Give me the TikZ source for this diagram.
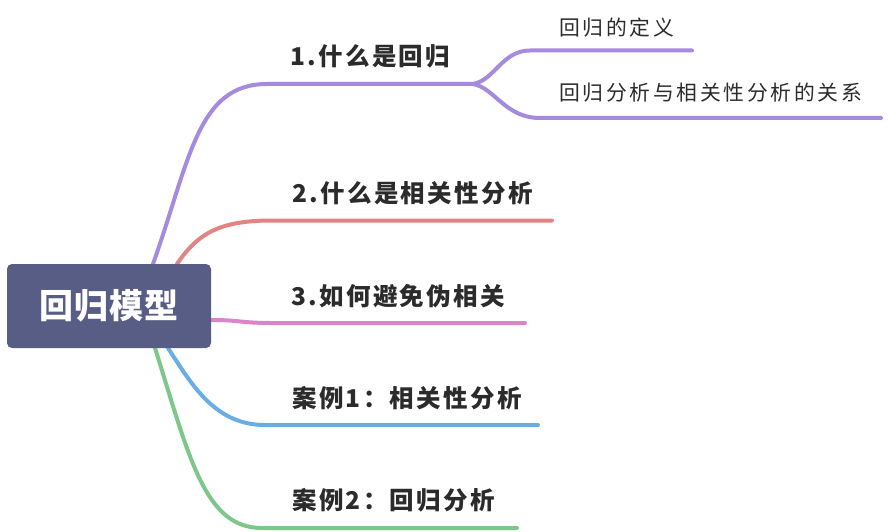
\documentclass[tikz,border=0pt]{standalone}
\usepackage{fontspec}
\newfontfamily\cjk{Noto Sans CJK SC}
\newfontfamily\cjkb{Noto Sans CJK SC}[LetterSpace=9.5]
\newfontfamily\cjks{Noto Sans CJK SC}[LetterSpace=13]
\newfontfamily\cjkr{Noto Sans CJK SC}[LetterSpace=3]
\definecolor{cpur}{HTML}{A48BDE}
\definecolor{cred}{HTML}{E38484}
\definecolor{cpink}{HTML}{D985C8}
\definecolor{cblue}{HTML}{68AEE4}
\definecolor{cgreen}{HTML}{7DC78A}
\definecolor{croot}{HTML}{575D85}
\definecolor{ctext}{HTML}{2B2B2B}
\tikzset{
  branch/.style={line width=4pt, line cap=round},
  maintext/.style={anchor=west, inner sep=0pt, text=ctext, font=\cjkb\bfseries\fontsize{24.5}{28}\selectfont},
  subtext/.style={anchor=west, inner sep=0pt, text=ctext, font=\cjks\fontsize{20.8}{24}\selectfont},
  rootbox/.style={fill=croot, rounded corners=5pt, minimum width=204pt, minimum height=84pt, inner sep=0pt, text=white, font=\cjkr\bfseries\fontsize{34}{40}\selectfont}
}
\begin{document}
\begin{tikzpicture}[x=1pt, y=-1pt]
\useasboundingbox (0,0) rectangle (888,532);
% coordinates
\coordinate (r1) at (153,264);
\coordinate (r2) at (177,264);
\coordinate (r3) at (211,320);
\coordinate (r4) at (168,348);
\coordinate (r5) at (155,348);
\coordinate (h1) at (267,84);
\coordinate (e1) at (473,84);
\coordinate (h2) at (272,220.5);
\coordinate (e2) at (552,220.5);
\coordinate (h3) at (272,323);
\coordinate (e3) at (525,323);
\coordinate (h4) at (265,425);
\coordinate (e4) at (538,425);
\coordinate (h5) at (262,528);
\coordinate (e5) at (517,528);
\coordinate (u1) at (530,50.5);
\coordinate (u2) at (692,50.5);
\coordinate (l1) at (540,118);
\coordinate (l2) at (881,118);
% branches
\draw[branch, cpur] (r1) .. controls (190,160) and (197,84) .. (h1) -- (e1);
\draw[branch, cpur] (e1) .. controls (495,80) and (502,50.5) .. (u1) -- (u2);
\draw[branch, cpur] (e1) .. controls (495,88) and (505,118) .. (l1) -- (l2);
\draw[branch, cred] (r2) .. controls (198,233) and (220,220.5) .. (h2) -- (e2);
\draw[branch, cpink] (r3) .. controls (240,320) and (240,323) .. (h3) -- (e3);
\draw[branch, cblue] (r4) .. controls (192,385) and (215,425) .. (h4) -- (e4);
\draw[branch, cgreen] (r5) .. controls (190,460) and (205,528) .. (h5) -- (e5);
% root
\node[rootbox] (root) at (109,306) {回归模型};
% texts
\node[maintext] (t1) at (290,56) {1.什么是回归};
\node[maintext] (t2) at (292,193) {2.什么是相关性分析};
\node[maintext] (t3) at (291,296) {3.如何避免伪相关};
\node[maintext] (t4) at (292,398) {案例1：相关性分析};
\node[maintext] (t5) at (292,500) {案例2：回归分析};
\node[subtext] (s1) at (559,28) {回归的定义};
\node[subtext] (s2) at (559,93) {回归分析与相关性分析的关系};
\end{tikzpicture}
\end{document}
